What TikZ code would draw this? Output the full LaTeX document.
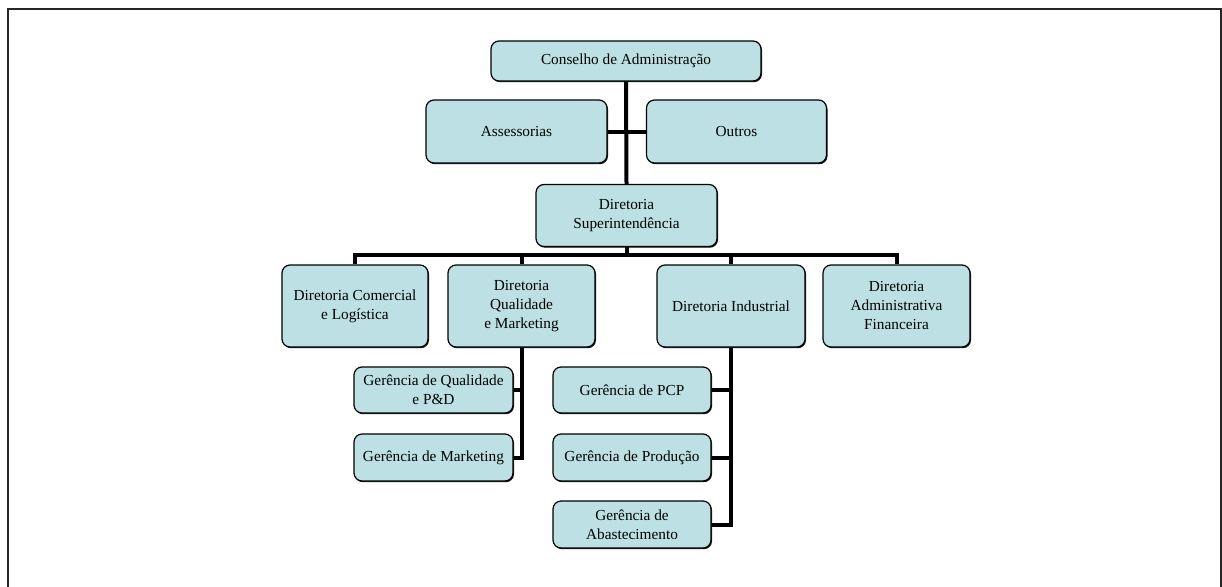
\documentclass[tikz,border=0pt]{standalone}
\usepackage{fontspec}
\setmainfont{Liberation Serif}
\usetikzlibrary{shadows}
\definecolor{boxfill}{RGB}{188,224,227}
\begin{document}
\begin{tikzpicture}[x=1pt,y=-1pt,
  orgbox/.style={draw=black, line width=1.2pt, fill=boxfill, rounded corners=8pt,
    align=center, inner sep=0pt, font=\fontsize{15.3}{19}\selectfont,
    drop shadow={shadow xshift=1pt, shadow yshift=-1.2pt, fill=black, opacity=0.9}},
  conn/.style={line width=4pt, draw=black, line join=miter}]
\useasboundingbox (0,0) rectangle (1222,586);
\draw[line width=2pt, black!85] (8,600) -- (8,9) -- (1221,9) -- (1221,600);

\node[orgbox, minimum width=270pt, minimum height=40pt] (cons) at (626,61) {Conselho de Administração};
\node[orgbox, minimum width=181pt, minimum height=63pt] (ass) at (516.5,131.5) {Assessorias};
\node[orgbox, minimum width=180pt, minimum height=63pt] (out) at (736.5,131.5) {Outros};
\node[orgbox, minimum width=181pt, minimum height=62pt] (sup) at (626.5,215.5) {Diretoria\\Superintendência};

\node[orgbox, minimum width=146pt, minimum height=82pt] (com) at (355,306) {Diretoria Comercial\\e Logística};
\node[orgbox, minimum width=147pt, minimum height=82pt] (qual) at (521.5,306) {Diretoria\\Qualidade\\e Marketing};
\node[orgbox, minimum width=148pt, minimum height=82pt] (ind) at (731,306) {Diretoria Industrial};
\node[orgbox, minimum width=147pt, minimum height=82pt] (adm) at (896.5,306) {Diretoria\\Administrativa\\Financeira};

\node[orgbox, minimum width=159pt, minimum height=46pt] (gq) at (433.5,390) {Gerência de Qualidade\\e P\&D};
\node[orgbox, minimum width=159pt, minimum height=47pt] (gm) at (433.5,457.5) {Gerência de Marketing};
\node[orgbox, minimum width=158pt, minimum height=46pt] (pcp) at (632,390) {Gerência de PCP};
\node[orgbox, minimum width=158pt, minimum height=47pt] (prod) at (632,457.5) {Gerência de Produção};
\node[orgbox, minimum width=158pt, minimum height=47pt] (abs) at (632,524.5) {Gerência de\\Abastecimento};

\coordinate (bar) at (626.5,255);

\draw[conn] (cons.south) -- (sup.north);
\draw[conn] (ass.east) -- (out.west);
\draw[conn] (sup.south) -- (bar);
\draw[conn] (com.north) |- (bar) -| (adm.north);
\draw[conn] (qual.north) -- (qual.north |- bar);
\draw[conn] (ind.north) -- (ind.north |- bar);
\draw[conn] (qual.south) |- (gm.east);
\draw[conn] (gq.east) -- (qual.south |- gq.east);
\draw[conn] (ind.south) |- (abs.east);
\draw[conn] (pcp.east) -- (ind.south |- pcp.east);
\draw[conn] (prod.east) -- (ind.south |- prod.east);
\end{tikzpicture}
\end{document}
